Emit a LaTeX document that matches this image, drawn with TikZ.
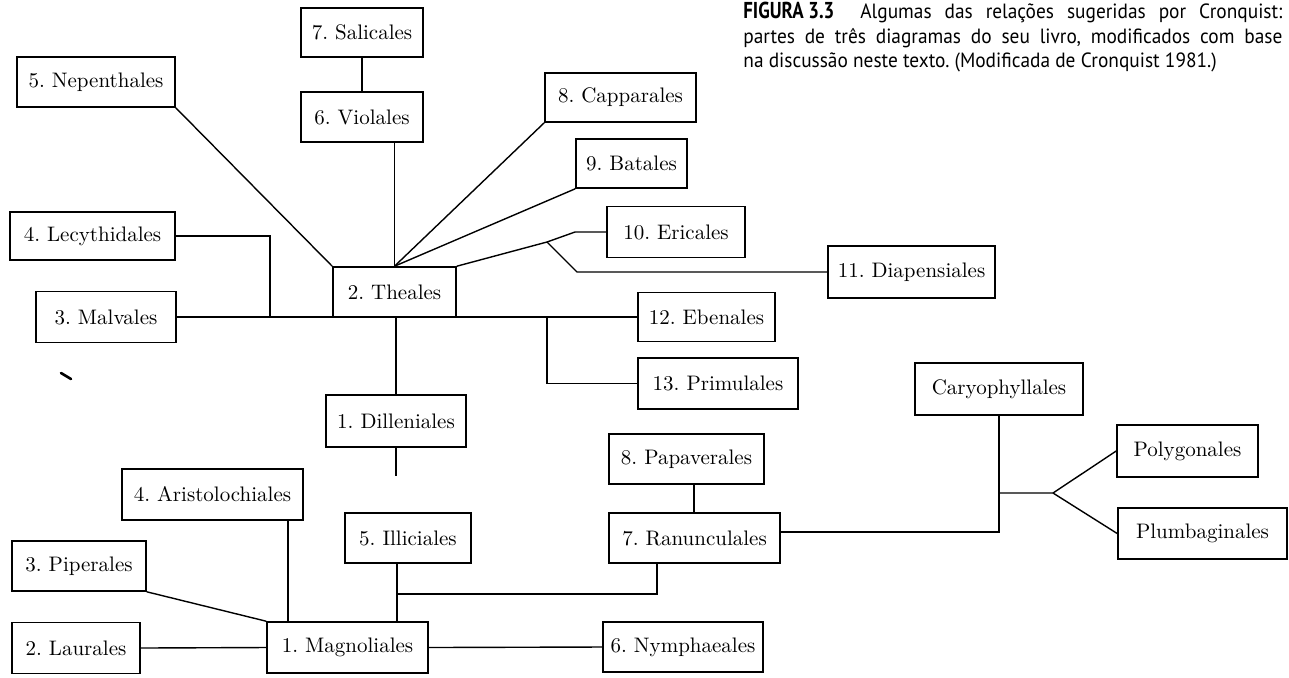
\documentclass[tikz,border=0pt]{standalone}
\usepackage{graphicx}
\usepackage{fontspec}
\newfontfamily\capfont[FakeStretch=0.94]{PT Sans}
\frenchspacing
\begin{document}
\begin{tikzpicture}[x=0.5pt,y=-0.5pt,
  taxon/.style={draw, line width=0.8pt, inner sep=0pt,
    font=\fontsize{10.5}{12}\selectfont},
  sz/.style 2 args={minimum width=#1*0.5pt, minimum height=#2*0.5pt},
  link/.style={line width=0.7pt},
  captext/.style={anchor=base west, inner sep=0pt,
    font=\capfont\fontsize{10.3}{12}\selectfont}]
\useasboundingbox (0,0) rectangle (1289,677);

% ---- caption (justified block, last line ragged) ----
\node[captext] (cap1) at (743,18)
  {\makebox[269.5pt][s]{\resizebox{45.5pt}{\height}{\fontsize{11.5}{12}\selectfont\bfseries FIGURA 3.3}\hspace{13pt}Algumas das relações sugeridas por Cronquist:}};
\node[captext] (cap2) at (743,43)
  {\makebox[269.5pt][s]{partes de três diagramas do seu livro, modificados com base}};
\node[captext] (cap3) at (743,67.5)
  {na discussão neste texto. (Modificada de Cronquist 1981.)};

% ---- upper diagram: Theales and relatives ----
\node[taxon, sz={122}{49}] (salicales)     at (362,32.5)  {7. Salicales};
\node[taxon, sz={122}{50}] (violales)      at (362,117)   {6. Violales};
\node[taxon, sz={158}{50}] (nepenthales)   at (96,82)     {5. Nepenthales};
\node[taxon, sz={151}{49}] (capparales)    at (620.5,97.5) {8. Capparales};
\node[taxon, sz={111}{49}] (batales)       at (631.5,163.5) {9. Batales};
\node[taxon, sz={138}{51}] (ericales)      at (676,232)   {10. Ericales};
\node[taxon, sz={167}{52}] (diapensiales)  at (911.5,272) {11. Diapensiales};
\node[taxon, sz={123}{50}] (theales)       at (394.5,292) {2. Theales};
\node[taxon, sz={165}{48}] (lecythidales)  at (92.5,236)  {4. Lecythidales};
\node[taxon, sz={140}{51}] (malvales)      at (106,317)   {3. Malvales};
\node[taxon, sz={137}{49}] (ebenales)      at (706.5,317) {12. Ebenales};
\node[taxon, sz={160}{51}] (primulales)    at (718,383.5) {13. Primulales};
\node[taxon, sz={140}{52}] (dilleniales)   at (396,421)   {1. Dilleniales};

\draw[link] (salicales) -- (violales);
\draw[link] (theales.north |- violales.south) -- (theales.north);
\draw[link] (nepenthales.south east) -- (theales.north west);
\draw[link] (capparales.south west) -- (theales.north);
\draw[link] (batales.south west) -- (theales.north);
\coordinate (ej) at (547,242);
\coordinate (eb) at (575,232);
\coordinate (dj) at (577,272);
\draw[link] (theales.north east) -- (ej) -- (eb) -- (ericales.west);
\draw[link] (ej) -- (dj) -- (diapensiales.west);
\coordinate (lj) at (270,317);
\draw[link] (lecythidales.east) -| (lj);
\draw[link] (malvales.east) -- (ebenales.west);
\coordinate (pj) at (547,317);
\draw[link] (pj) |- (primulales.west);
\draw[link] (dilleniales.north |- theales.south) -- (dilleniales.north);
\coordinate (dend) at (396,476);
\draw[link] (dilleniales.south) -- (dend);

% small ink mark
\draw[line width=1.3pt, line cap=round] (61,373) -- (71,379);

% ---- lower diagram: Magnoliales and relatives ----
\node[taxon, sz={181}{51}] (aristolochiales) at (212.5,494.5) {4. Aristolochiales};
\node[taxon, sz={126}{50}] (illiciales)    at (408,538)   {5. Illiciales};
\node[taxon, sz={155}{50}] (papaverales)   at (686.5,459) {8. Papaverales};
\node[taxon, sz={171}{50}] (ranunculales)  at (694.5,538) {7. Ranunculales};
\node[taxon, sz={161}{51}] (magnoliales)   at (347.5,647.5) {1. Magnoliales};
\node[taxon, sz={160}{50}] (nymphaeales)   at (683,647)   {6. Nymphaeales};
\node[taxon, sz={134}{50}] (piperales)     at (79,566)    {3. Piperales};
\node[taxon, sz={128}{51}] (laurales)      at (76,648)    {2. Laurales};
\node[taxon, sz={168}{52}] (caryophyllales) at (999,389)  {Caryophyllales};
\node[taxon, sz={141}{52}] (polygonales)   at (1187.5,451) {Polygonales};
\node[taxon, sz={169}{51}] (plumbaginales) at (1202.5,533.5) {Plumbaginales};

\coordinate (aj) at (288,622);
\draw[link] (aj |- aristolochiales.south) -- (aj);
\draw[link] (piperales.south east) -- (magnoliales.north west);
\draw[link] (laurales.east) -- (magnoliales.west);
\coordinate (ij) at (397,594);
\coordinate (rj) at (657,594);
\draw[link] (ij |- illiciales.south) -- (ij |- magnoliales.north);
\draw[link] (ij) -- (rj) -- (rj |- ranunculales.south);
\coordinate (pv) at (694,484);
\draw[link] (pv |- papaverales.south) -- (pv |- ranunculales.north);
\draw[link] (magnoliales.east) -- (nymphaeales.west);
\coordinate (cj) at (999,532);
\draw[link] (ranunculales.east |- cj) -- (cj) -- (caryophyllales.south);
\coordinate (cm) at (999,493);
\coordinate (cf) at (1053,493);
\draw[link] (cm) -- (cf) -- (polygonales.west);
\draw[link] (cf) -- (plumbaginales.west);
\end{tikzpicture}
\end{document}
